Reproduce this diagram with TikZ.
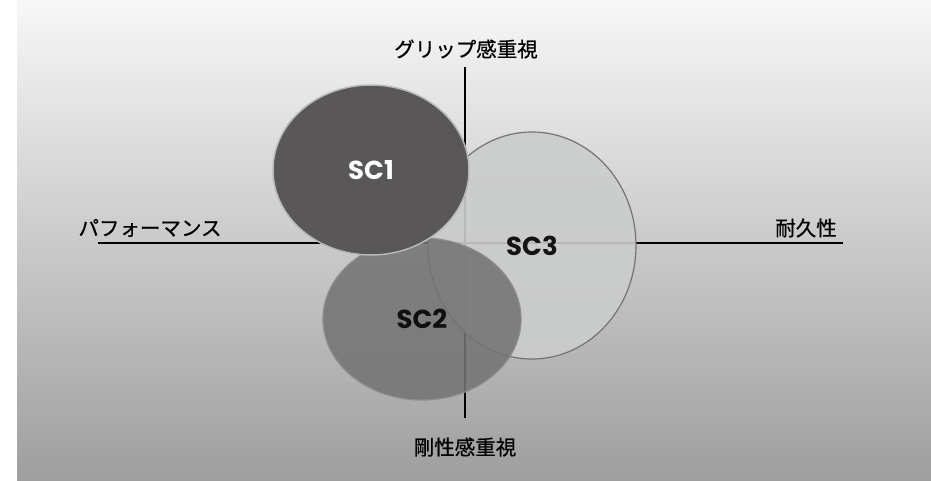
\documentclass[tikz,border=0pt]{standalone}
\usepackage{fontspec}
\usepackage{xcolor}
\usepackage{tikz}
\usetikzlibrary{shapes.geometric}
\newfontfamily\jpfont{Noto Sans CJK JP}[FakeBold=0.7]
\newfontfamily\scfont{Poppins}[BoldFont=* Bold]
\definecolor{bgtop}{HTML}{F7F7F7}
\definecolor{bgbottom}{HTML}{9E9E9E}
\definecolor{scdark}{HTML}{595758}
\definecolor{scmid}{HTML}{747474}
\definecolor{sclight}{HTML}{CBCCCC}

\begin{document}
\begin{tikzpicture}[x=1pt,y=-1pt,
  axislabel/.style={inner sep=0pt,font=\jpfont\fontsize{20.5}{24}\selectfont},
  sc/.style={ellipse,inner sep=0pt,font=\scfont\bfseries\fontsize{26}{30}\selectfont}]
  \useasboundingbox (0,0) rectangle (931,481);
  \fill[white] (0,0) rectangle (931,481);
  \shade[top color=bgtop,bottom color=bgbottom] (17,0) rectangle (931,481);

  	\coordinate (top) at (465,67);
  	\coordinate (bottom) at (465,418);
  	\coordinate (left) at (98,242.5);
  	\coordinate (right) at (843,242.5);

  	\node[axislabel] (grip) at (466,49) {グリップ感重視};
  	\node[axislabel] (perf) at (150,228) {パフォーマンス};
  	\node[axislabel] (dura) at (806,228) {耐久性};
  	\node[axislabel] (rigid) at (465,447) {剛性感重視};

	\draw[line width=1.5pt] (top) -- (bottom);
	\draw[line width=2pt] (left) -- (right);

  	\node[sc,draw=black!55,line width=1.2pt,fill=sclight,fill opacity=.9,
  	  minimum width=208,minimum height=227] (sc3) at (532,245.5) {SC3};
  	\node[sc,draw=black!45,line width=1.2pt,fill=scmid,fill opacity=.88,
  	  minimum width=198,minimum height=162] (sc2) at (422,319) {SC2};
  	\node[sc,draw=black!28,line width=1.5pt,fill=scdark,text=white,
  	  minimum width=196,minimum height=170] (sc1) at (371,170) {SC1};

  	\end{tikzpicture}
\end{document}
